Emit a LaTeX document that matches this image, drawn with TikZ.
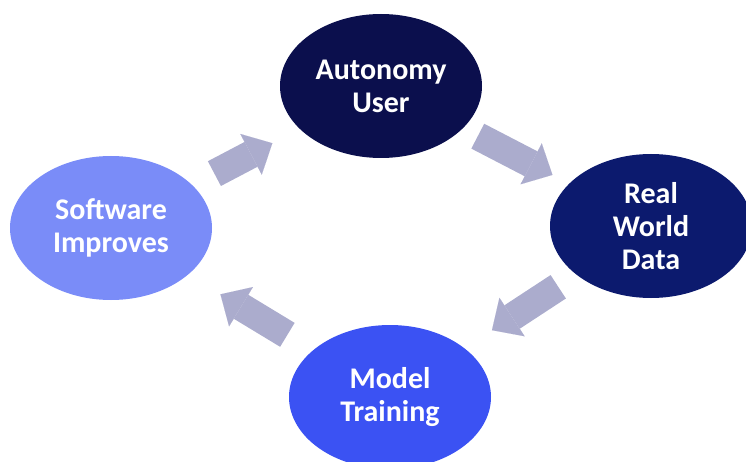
\documentclass[tikz,border=0pt]{standalone}
\usepackage{fontspec}
\setmainfont{Carlito}
\usetikzlibrary{shapes.geometric, arrows.meta}

\definecolor{usernavy}{HTML}{0B0F4D}
\definecolor{datanavy}{HTML}{0C1A6E}
\definecolor{trainblue}{HTML}{3B52F3}
\definecolor{softblue}{HTML}{7A8CF8}
\definecolor{flowgray}{HTML}{ABACCD}

\begin{document}
\begin{tikzpicture}[x=1pt, y=-1pt,
        stage/.style={ellipse, minimum width=202pt, minimum height=144pt,
            inner sep=0pt, outer sep=0pt, text=white, align=center,
            font=\bfseries\fontsize{30}{33}\selectfont},
        flow/.style={draw=flowgray, line width=28pt,
            -{Triangle[length=24pt, width=46pt, line width=0.01pt]}}]

    % the frame
    \useasboundingbox (0, 0) rectangle (746, 462);
    \clip (0, 0) rectangle (746, 462);

    % the stages
    \node[stage, fill=usernavy]  (user)  at (381, 86)  {Autonomy\\User};
    \node[stage, fill=datanavy]  (data)  at (651, 226) {Real\\World\\Data};
    \node[stage, fill=trainblue] (train) at (390, 397) {Model\\Training};
    \node[stage, fill=softblue]  (soft)  at (111, 228) {Software\\Improves};

    % arrows
    \draw[flow, shorten <=25pt, shorten >=31pt] (soft)  -- (user);
    \draw[flow, shorten <=17pt, shorten >=19pt] (user)  -- (data);
    \draw[flow, shorten <=22pt, shorten >=33pt] (data)  -- (train);
    \draw[flow, shorten <=30pt, shorten >=38pt] (train) -- (soft);

\end{tikzpicture}
\end{document}
